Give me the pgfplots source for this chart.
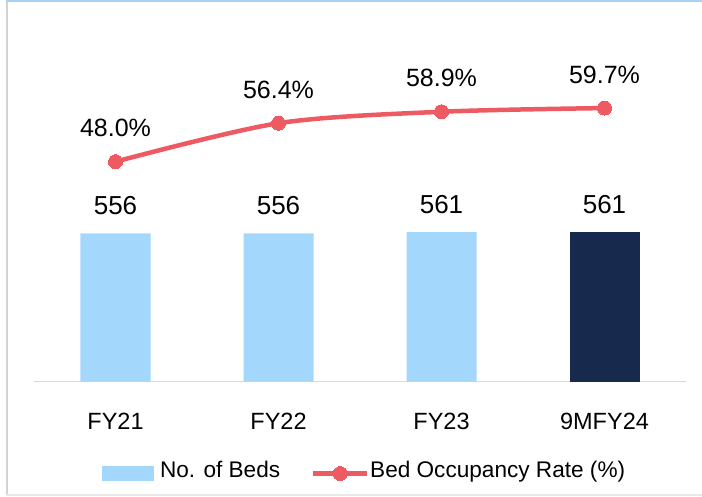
\documentclass[border=0pt]{standalone}
\usepackage{fontspec}
\setmainfont{Liberation Sans}
\usepackage{pgfplots}
\pgfplotsset{compat=1.18}
\definecolor{barblue}{HTML}{A3D7FC}
\definecolor{navy}{HTML}{17294D}
\definecolor{linered}{HTML}{EE5A62}
\definecolor{axgray}{HTML}{D9D9D9}
\definecolor{leftgray}{HTML}{D3D3D3}
\definecolor{topblue}{HTML}{A8D2F4}
\definecolor{botgray}{HTML}{E8E8E8}
\begin{document}
\begin{tikzpicture}
\path[use as bounding box] (0pt,0pt) rectangle (702pt,496pt);
\fill[leftgray] (5.5pt,2pt) rectangle (7.5pt,494pt);
\fill[topblue] (6pt,494pt) rectangle (702pt,496pt);
\fill[botgray] (6pt,0pt) rectangle (702pt,2pt);

\begin{axis}[
  at={(34pt,114.5pt)}, anchor=south west,
  scale only axis, width=652pt, height=372.8pt,
  xmin=-0.5, xmax=3.5, ymin=0, ymax=1400,
  axis y line=none, axis x line*=bottom,
  x axis line style={draw=axgray, line width=1.5pt, -},
  xtick={0,1,2,3}, xticklabels={FY21,FY22,FY23,9MFY24},
  major tick length=0pt,
  xticklabel style={font=\fontsize{23.5}{28}\selectfont, anchor=base, yshift=-47.8pt, inner sep=0pt},
  ybar, bar width=70pt,
  nodes near coords,
  every node near coord/.append style={font=\fontsize{26}{30}\selectfont, anchor=base, yshift=18.5pt, inner sep=0pt, text=black},
  /pgf/number format/assume math mode=true,
  clip=false,
]
\addplot[fill=barblue, draw=none, bar shift=0pt] coordinates {(0,556) (1,556) (2,561)};
\addplot[fill=navy, draw=none, bar shift=0pt] coordinates {(3,561)};
\end{axis}

\begin{axis}[
  at={(34pt,114.5pt)}, anchor=south west,
  scale only axis, width=652pt, height=372.8pt,
  xmin=-0.5, xmax=3.5, ymin=0, ymax=81.4,
  hide axis,
  clip=false,
  legend columns=2,
  legend style={at={(axis description cs:0.1043,-0.2468)}, anchor=west, draw=none, fill=none, inner sep=0pt, outer sep=0pt, font=\fontsize{22.6}{26}\selectfont, nodes={inner sep=0pt, text height=0.716em, text depth=0pt}, column sep=0pt, row sep=0pt},
  nodes near coords={\pgfmathprintnumber[fixed,fixed zerofill,precision=1]{\pgfplotspointmeta}\%},
  every node near coord/.append style={font=\fontsize{25}{30}\selectfont, anchor=base, yshift=25pt, inner sep=0pt, text=black},
  /pgf/number format/assume math mode=true,
]
\addlegendimage{draw=none, fill=none, mark=none, legend image code/.code={\path[draw=none, fill=none] (0pt,-7.5pt) rectangle (58pt,7.5pt); \fill[barblue] (0pt,-7.5pt) rectangle (52pt,7.5pt);}}
\addlegendentry{No. of Beds}
\addplot[color=linered, line width=4.5pt, smooth, mark=*, mark size=7pt, mark options={fill=linered, draw=linered, line width=0pt},
  legend image code/.code={\path[draw=none, fill=none] (-33pt,0pt) -- (57pt,0pt); \draw[linered, line width=4.5pt, mark=*, mark size=7pt, mark options={fill=linered, draw=linered, line width=0pt}, mark repeat=2, mark phase=2] plot coordinates {(0pt,0pt) (27pt,0pt) (54pt,0pt)};}]
  coordinates {(0,48.0) (1,56.4) (2,58.9) (3,59.7)};
\addlegendentry{Bed Occupancy Rate (\%)}
\end{axis}
\end{tikzpicture}
\end{document}
